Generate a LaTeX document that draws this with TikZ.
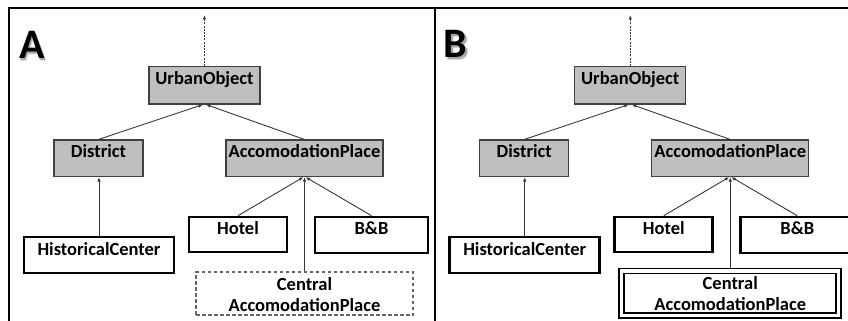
\documentclass[tikz,border=0pt]{standalone}
\usepackage{fontspec}
\setmainfont{Carlito}
\usetikzlibrary{arrows.meta}
\definecolor{classgray}{RGB}{191,191,191}
\definecolor{edgegray}{RGB}{64,64,64}
\definecolor{linkgray}{RGB}{55,55,55}
\begin{document}
\begin{tikzpicture}[x=1pt,y=-1pt,
  every node/.style={font=\fontsize{18.5}{21}\selectfont\bfseries, inner sep=0pt},
  superclass/.style={draw=edgegray, line width=1.1pt, fill=classgray},
  subclass/.style={draw=black, line width=2.6pt, fill=white},
  dims/.style n args={3}{minimum width=#1, text height=#2, text depth=#3},
  isa/.style={draw=linkgray, line width=0.9pt, -{Latex[length=4.5pt,width=3.5pt]}},
  ext/.style={isa, dash pattern=on 2pt off 1.2pt},
  panelletter/.style={font=\fontsize{42}{42}\selectfont\bfseries, anchor=base west},
]
\useasboundingbox (0,0) rectangle (848,321);

% outer frame and divider between the two panels
\draw[line width=2pt] (9,335) -- (9,8) -- (860,8);
\draw[line width=2pt] (435,8) -- (435,335);

% ---------------- panel A ----------------
\foreach \d/\c in {2.4/black!15, 1.4/black!35}
  \node[panelletter, text=\c] at (19+\d,59+\d) {A};
\node[panelletter] (letterA) at (19,59) {A};

\node[superclass, dims={111pt}{18pt}{19.5pt}] (uoA) at (204.5,85.25) {UrbanObject};
\node[superclass, dims={89pt}{17.5pt}{19pt}] (distA) at (98.5,158.25) {District};
\node[superclass, dims={157pt}{17.5pt}{19pt}] (accA) at (304.5,158.25) {AccomodationPlace};
\node[subclass, dims={150pt}{18pt}{18pt}] (hcA) at (99,255) {HistoricalCenter};
\node[subclass, dims={98pt}{17pt}{18pt}] (hotelA) at (238,234.5) {Hotel};
\node[subclass, dims={113pt}{17pt}{19pt}] (bbA) at (371.5,235) {B\&B};
\node[draw=black!60, line width=1.1pt, dash pattern=on 3.5pt off 2.5pt, align=center,
      dims={217pt}{39pt}{4pt}] (cA) at (304.5,293.5) {Central\\AccomodationPlace};

\coordinate (topA) at (204.5,15);
\draw[ext] (uoA.north) -- (topA);
\draw[isa] (distA.north) -- ([xshift=-1.5pt]uoA.south);
\draw[isa] (accA.north) -- ([xshift=1.5pt]uoA.south);
\draw[isa] (hcA.north) -- (hcA.north |- distA.south);
\draw[isa] (hotelA.north) -- ([xshift=-1pt]accA.south);
\draw[isa] (bbA.north) -- ([xshift=1pt]accA.south);
\draw[isa] (cA.north) -- (accA.south);

% ---------------- panel B ----------------
\begin{scope}[xshift=425.75pt]
\foreach \d/\c in {2.4/black!15, 1.4/black!35}
  \node[panelletter, text=\c] at (18+\d,58+\d) {B};
\node[panelletter] (letterB) at (18,58) {B};

\node[superclass, dims={111pt}{18pt}{19.5pt}] (uoB) at (204.5,85.25) {UrbanObject};
\node[superclass, dims={89pt}{17.5pt}{19pt}] (distB) at (98.5,158.25) {District};
\node[superclass, dims={157pt}{17.5pt}{19pt}] (accB) at (304.5,158.25) {AccomodationPlace};
\node[subclass, dims={150pt}{18pt}{18pt}] (hcB) at (99,255) {HistoricalCenter};
\node[subclass, dims={98pt}{17pt}{18pt}] (hotelB) at (238,234.5) {Hotel};
\node[subclass, dims={113pt}{17pt}{19pt}] (bbB) at (371.5,235) {B\&B};
\node[draw=black, line width=1.8pt, double=white, double distance=3.2pt, align=center,
      dims={217pt}{40pt}{4.25pt}] (cB) at (304.5,293.1) {Central\\AccomodationPlace};

\coordinate (topB) at (204.5,15);
\draw[ext] (uoB.north) -- (topB);
\draw[isa] (distB.north) -- ([xshift=-1.5pt]uoB.south);
\draw[isa] (accB.north) -- ([xshift=1.5pt]uoB.south);
\draw[isa] (hcB.north) -- (hcB.north |- distB.south);
\draw[isa] (hotelB.north) -- ([xshift=-1pt]accB.south);
\draw[isa] (bbB.north) -- ([xshift=1pt]accB.south);
\draw[isa] ([yshift=2.5pt]cB.north) -- (accB.south);
\end{scope}
\end{tikzpicture}
\end{document}
